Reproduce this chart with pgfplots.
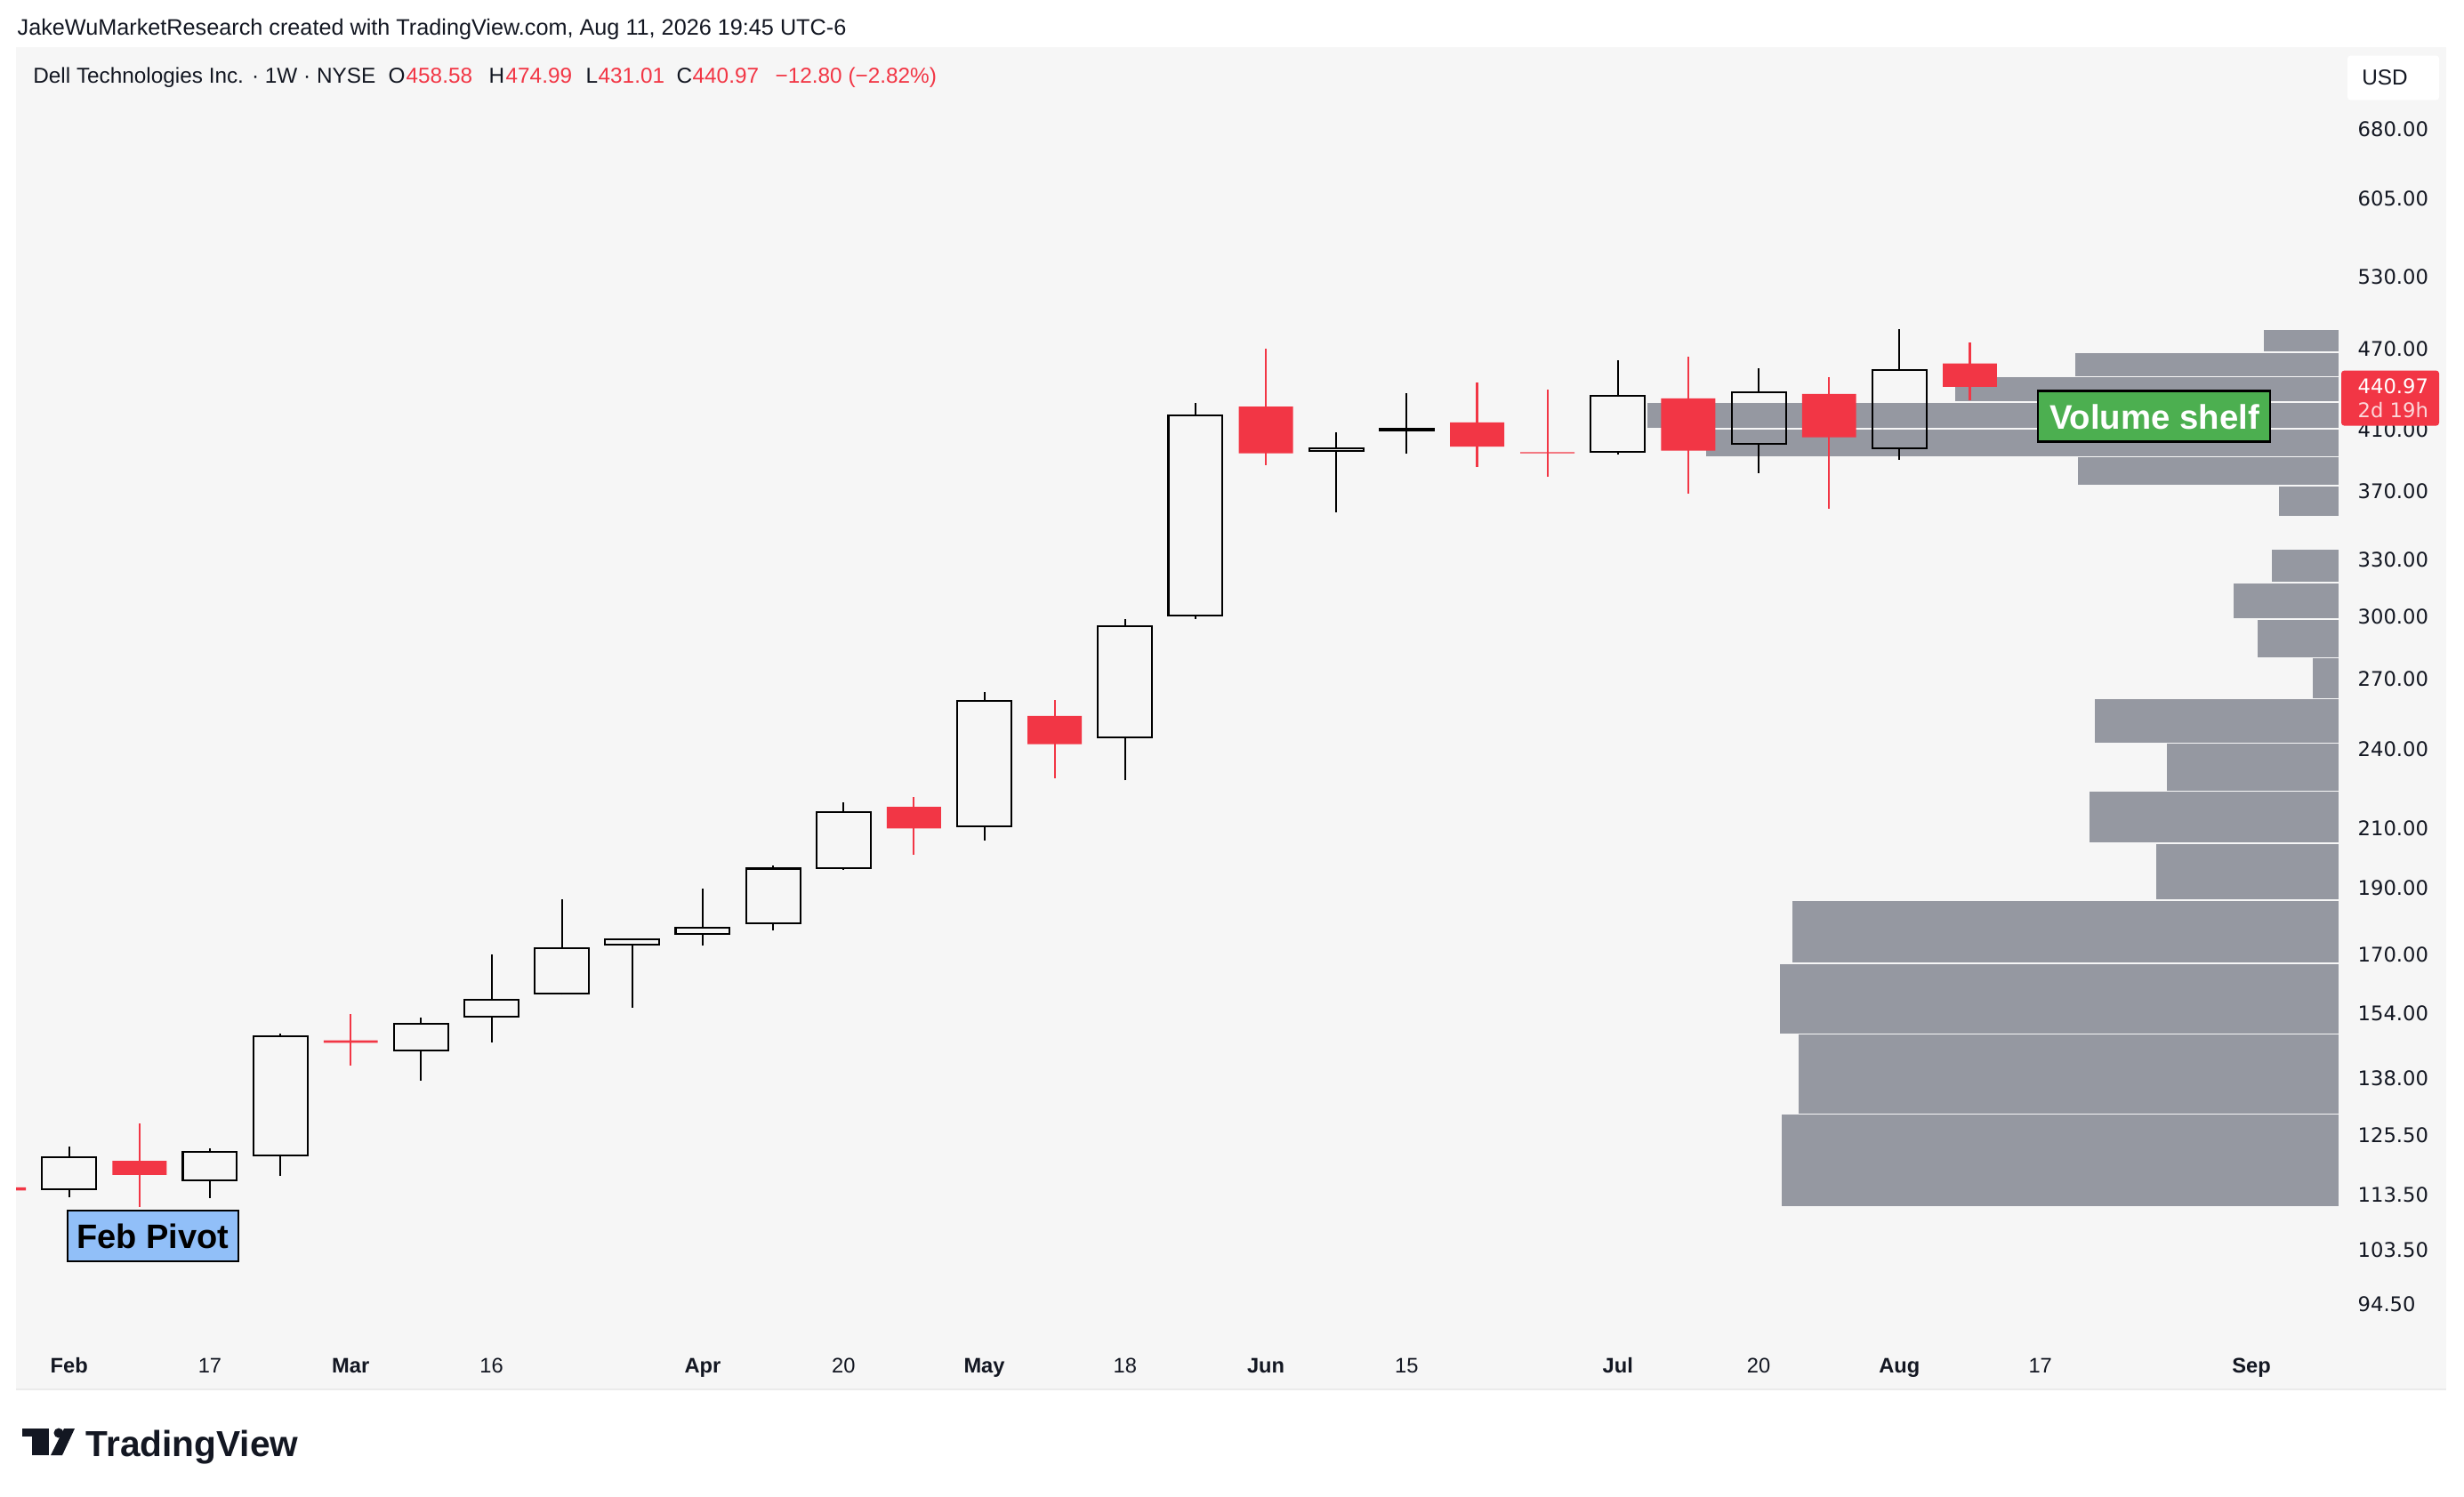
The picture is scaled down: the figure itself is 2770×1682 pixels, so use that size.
\documentclass[border=0pt]{standalone}
\usepackage{fontspec}
\setmainfont{Liberation Sans}
\newfontfamily\dejavu{DejaVu Sans}
\usepackage{pgfplots}
\pgfplotsset{compat=1.18}
\definecolor{panel}{HTML}{F6F6F6}
\definecolor{tvred}{HTML}{F23645}
\definecolor{volgray}{HTML}{9598A1}
\definecolor{tvtext}{HTML}{131722}
\definecolor{pivotblue}{HTML}{91BFF8}
\definecolor{shelfgreen}{HTML}{4CAF50}
\begin{document}
\begin{tikzpicture}[x=0.3pt,y=-0.3pt]
\path[use as bounding box] (0,0) rectangle (2770,1682);
\fill[white] (0,0) rectangle (2770,1682);
\fill[panel] (18,53) rectangle (2750,1562);
\draw[black!8, line width=0.5pt] (18,1562) -- (2750,1562);
% top line
\node[anchor=base west, inner sep=0pt, font=\fontsize{7.57}{9}\selectfont, text=tvtext] at (19,39) {JakeWuMarketResearch created with TradingView.com, Aug 11, 2026 19:45 UTC-6};
% header
\begin{scope}[every node/.style={anchor=base west, inner sep=0pt, font=\fontsize{7.3}{9}\selectfont, text=tvtext}]
\node at (36.7,93) {Dell Technologies Inc. · 1W · NYSE};
\node at (436,93) {O};
\node[text=tvred] at (456,93) {458.58};
\node at (549,93) {H};
\node[text=tvred] at (568,93) {474.99};
\node at (658,93) {L};
\node[text=tvred] at (672,93) {431.01};
\node at (760,93) {C};
\node[text=tvred] at (778,93) {440.97};
\node[text=tvred] at (871,93) {−12.80 (−2.82\%)};
\end{scope}
% USD box
\fill[white, rounded corners=1pt] (2639,62.6) rectangle (2742,112.4);
\node[inner sep=0pt, font=\fontsize{7.3}{9}\selectfont, text=tvtext] at (2681,87) {USD};

\begin{axis}[
  at={(5.4pt,-15.9pt)}, anchor=north west,
  width=783.6pt, height=436.2pt, scale only axis,
  xmin=-0.7544, xmax=32.25,
  ymode=log, ymin=88.93, ymax=780,
  axis line style={draw=none},
  tick style={draw=none},
  major tick length=0pt, minor tick length=0pt,
  ytick={94.5,103.5,113.5,125.5,138,154,170,190,210,240,270,300,330,370,410,470,530,605,680},
  yticklabels={94.50,103.50,113.50,125.50,138.00,154.00,170.00,190.00,210.00,240.00,270.00,300.00,330.00,370.00,410.00,470.00,530.00,605.00,680.00},
  yticklabel pos=right,
  yticklabel style={anchor=west, inner sep=0pt, xshift=6pt, font=\dejavu\fontsize{6.8}{8}\selectfont, text=tvtext},
  xtick={0,2,4,6,9,11,13,15,17,19,22,24,26,28,31},
  xticklabels={\textbf{Feb},17,\textbf{Mar},16,\textbf{Apr},20,\textbf{May},18,\textbf{Jun},15,\textbf{Jul},20,\textbf{Aug},17,\textbf{Sep}},
  xticklabel style={anchor=base, inner sep=0pt, yshift=-11.1pt, font=\fontsize{7.1}{8}\selectfont, text=tvtext},
  unbounded coords=jump,
  vol/.style={fill=volgray, draw=panel, line width=0.45pt, mark=none},
  up/.style={draw=black, line width=0.62pt, fill=none, line join=miter, line cap=rect, mark=none},
  upwick/.style={draw=black, line width=0.62pt, mark=none},
  down/.style={fill=tvred, draw=none, mark=none},
  downwick/.style={draw=tvred, line width=0.62pt, mark=none},
]
% volume profile (bins of 18.73 from 111.30)
\addplot[vol] coordinates {(31.163,467.17) (32.25,467.17) (32.25,485.90) (31.163,485.90)} --cycle;
\addplot[vol] coordinates {(28.485,448.44) (32.25,448.44) (32.25,467.17) (28.485,467.17)} --cycle;
\addplot[vol] coordinates {(26.779,429.71) (32.25,429.71) (32.25,448.44) (26.779,448.44)} --cycle;
\addplot[vol] coordinates {(22.407,410.98) (32.25,410.98) (32.25,429.71) (22.407,429.71)} --cycle;
\addplot[vol] coordinates {(23.241,392.25) (32.25,392.25) (32.25,410.98) (23.241,410.98)} --cycle;
\addplot[vol] coordinates {(28.522,373.52) (32.25,373.52) (32.25,392.25) (28.522,392.25)} --cycle;
\addplot[vol] coordinates {(31.378,354.79) (32.25,354.79) (32.25,373.52) (31.378,373.52)} --cycle;
\addplot[vol] coordinates {(31.277,317.33) (32.25,317.33) (32.25,336.06) (31.277,336.06)} --cycle;
\addplot[vol] coordinates {(30.734,298.60) (32.25,298.60) (32.25,317.33) (30.734,317.33)} --cycle;
\addplot[vol] coordinates {(31.075,279.87) (32.25,279.87) (32.25,298.60) (31.075,298.60)} --cycle;
\addplot[vol] coordinates {(31.858,261.14) (32.25,261.14) (32.25,279.87) (31.858,279.87)} --cycle;
\addplot[vol] coordinates {(28.762,242.41) (32.25,242.41) (32.25,261.14) (28.762,261.14)} --cycle;
\addplot[vol] coordinates {(29.786,223.68) (32.25,223.68) (32.25,242.41) (29.786,242.41)} --cycle;
\addplot[vol] coordinates {(28.687,204.95) (32.25,204.95) (32.25,223.68) (28.687,223.68)} --cycle;
\addplot[vol] coordinates {(29.634,186.22) (32.25,186.22) (32.25,204.95) (29.634,204.95)} --cycle;
\addplot[vol] coordinates {(24.466,167.49) (32.25,167.49) (32.25,186.22) (24.466,186.22)} --cycle;
\addplot[vol] coordinates {(24.289,148.76) (32.25,148.76) (32.25,167.49) (24.289,167.49)} --cycle;
\addplot[vol] coordinates {(24.555,130.03) (32.25,130.03) (32.25,148.76) (24.555,148.76)} --cycle;
\addplot[vol] coordinates {(24.315,111.30) (32.25,111.30) (32.25,130.03) (24.315,130.03)} --cycle;

% red (down) candles: wicks then bodies
\addplot[downwick] coordinates {
(-1,113.5) (-1,116.0) (nan,nan)
(1,111.3) (1,128.0) (nan,nan)
(4,141.1) (4,153.9) (nan,nan)
(12,201.1) (12,221.5) (nan,nan)
(14,228.6) (14,260.6) (nan,nan)
(17,386.8) (17,470.0) (nan,nan)
(20,385.4) (20,444.2) (nan,nan)
(21,379.1) (21,438.8) (nan,nan)
(23,368.7) (23,463.9) (nan,nan)
(25,359.5) (25,448.2) (nan,nan)
(27,431.01) (27,474.99)
};
\addplot[down] coordinates {
(-1.385,115.0) (-0.615,115.0) (-0.615,114.4) (-1.385,114.4) (nan,nan)
(0.615,120.2) (1.385,120.2) (1.385,117.4) (0.615,117.4) (nan,nan)
(3.615,147.2) (4.385,147.2) (4.385,146.6) (3.615,146.6) (nan,nan)
(11.615,217.8) (12.385,217.8) (12.385,210.1) (11.615,210.1) (nan,nan)
(13.615,253.7) (14.385,253.7) (14.385,242.0) (13.615,242.0) (nan,nan)
(16.615,426.5) (17.385,426.5) (17.385,394.4) (16.615,394.4) (nan,nan)
(19.615,415.4) (20.385,415.4) (20.385,398.9) (19.615,398.9) (nan,nan)
(20.615,395.2) (21.385,395.2) (21.385,394.4) (20.615,394.4) (nan,nan)
(22.615,432.4) (23.385,432.4) (23.385,396.2) (22.615,396.2) (nan,nan)
(24.615,435.7) (25.385,435.7) (25.385,405.1) (24.615,405.1) (nan,nan)
(26.615,458.58) (27.385,458.58) (27.385,440.97) (26.615,440.97)
};

% hollow (up) candles: wicks outside the body, then body outlines
\addplot[upwick] coordinates {
(0,121.0) (0,123.1) (nan,nan) (0,113.1) (0,114.6) (nan,nan)
(2,122.1) (2,122.7) (nan,nan) (2,113.0) (2,116.3) (nan,nan)
(3,148.1) (3,148.8) (nan,nan) (3,117.3) (3,121.3) (nan,nan)
(5,151.4) (5,152.9) (nan,nan) (5,137.6) (5,144.7) (nan,nan)
(6,157.6) (6,170.0) (nan,nan) (6,146.7) (6,153.2) (nan,nan)
(7,171.7) (7,186.5) (nan,nan) (7,158.9) (7,159.2) (nan,nan)
(8,155.5) (8,172.9) (nan,nan)
(9,177.8) (9,189.8) (nan,nan) (9,172.5) (9,176.0) (nan,nan)
(10,196.4) (10,197.4) (nan,nan) (10,177.1) (10,179.2) (nan,nan)
(11,216.0) (11,219.4) (nan,nan) (11,196.0) (11,196.5) (nan,nan)
(13,260.4) (13,264.2) (nan,nan) (13,205.9) (13,210.8) (nan,nan)
(15,295.1) (15,298.5) (nan,nan) (15,227.7) (15,244.8) (nan,nan)
(16,420.4) (16,429.2) (nan,nan) (16,298.7) (16,300.4) (nan,nan)
(18,398.0) (18,408.3) (nan,nan) (18,357.4) (18,396.2) (nan,nan)
(19,410.8) (19,436.3) (nan,nan) (19,394.1) (19,409.8) (nan,nan)
(22,434.6) (22,461.1) (nan,nan) (22,393.8) (22,395.4) (nan,nan)
(24,437.2) (24,454.9) (nan,nan) (24,381.6) (24,400.7) (nan,nan)
(26,453.8) (26,485.9) (nan,nan) (26,390.3) (26,397.8)
};
\addplot[up] coordinates {
(-0.385,114.6) (0.385,114.6) (0.385,121.0) (-0.385,121.0) (-0.385,114.6) (nan,nan)
(1.615,116.3) (2.385,116.3) (2.385,122.1) (1.615,122.1) (1.615,116.3) (nan,nan)
(2.615,121.3) (3.385,121.3) (3.385,148.1) (2.615,148.1) (2.615,121.3) (nan,nan)
(4.615,144.7) (5.385,144.7) (5.385,151.4) (4.615,151.4) (4.615,144.7) (nan,nan)
(5.615,153.2) (6.385,153.2) (6.385,157.6) (5.615,157.6) (5.615,153.2) (nan,nan)
(6.615,159.2) (7.385,159.2) (7.385,171.7) (6.615,171.7) (6.615,159.2) (nan,nan)
(7.615,172.9) (8.385,172.9) (8.385,174.3) (7.615,174.3) (7.615,172.9) (nan,nan)
(8.615,176.0) (9.385,176.0) (9.385,177.8) (8.615,177.8) (8.615,176.0) (nan,nan)
(9.615,179.2) (10.385,179.2) (10.385,196.4) (9.615,196.4) (9.615,179.2) (nan,nan)
(10.615,196.5) (11.385,196.5) (11.385,216.0) (10.615,216.0) (10.615,196.5) (nan,nan)
(12.615,210.8) (13.385,210.8) (13.385,260.4) (12.615,260.4) (12.615,210.8) (nan,nan)
(14.615,244.8) (15.385,244.8) (15.385,295.1) (14.615,295.1) (14.615,244.8) (nan,nan)
(15.615,300.4) (16.385,300.4) (16.385,420.4) (15.615,420.4) (15.615,300.4) (nan,nan)
(17.615,396.2) (18.385,396.2) (18.385,398.0) (17.615,398.0) (17.615,396.2) (nan,nan)
(18.615,409.8) (19.385,409.8) (19.385,410.8) (18.615,410.8) (18.615,409.8) (nan,nan)
(21.615,395.4) (22.385,395.4) (22.385,434.6) (21.615,434.6) (21.615,395.4) (nan,nan)
(23.615,400.7) (24.385,400.7) (24.385,437.2) (23.615,437.2) (23.615,400.7) (nan,nan)
(25.615,397.8) (26.385,397.8) (26.385,453.8) (25.615,453.8) (25.615,397.8)
};
\end{axis}

% current price label
\fill[tvred, rounded corners=1pt] (2632,416.6) rectangle (2742,478.6);
\node[anchor=west, inner sep=0pt, font=\dejavu\fontsize{6.8}{8}\selectfont, text=white] at (2650,434) {440.97};
\node[anchor=west, inner sep=0pt, font=\dejavu\fontsize{6.8}{8}\selectfont, text=white!80!tvred] at (2650,461) {2d 19h};

% annotations
\filldraw[fill=pivotblue, draw=black, line width=0.65pt] (75.8,1361) rectangle (267.7,1418.3);
\node[inner sep=0pt, font=\bfseries\fontsize{11.4}{12}\selectfont, text=black] at (171.7,1390) {Feb Pivot};
\filldraw[fill=shelfgreen, draw=black, line width=0.75pt] (2291,439.6) rectangle (2552,496.6);
\node[inner sep=0pt, font=\bfseries\fontsize{11.5}{12}\selectfont, text=white] at (2422,468.5) {Volume shelf};

% TradingView logo
\fill[tvtext] (25,1606) rectangle (55,1615);
\fill[tvtext] (36,1606) rectangle (55,1636);
\fill[tvtext] (66,1611) circle (1.65pt);
\fill[tvtext] (72,1606) -- (84,1606) -- (70,1636) -- (57,1636) -- cycle;
\node[anchor=base west, inner sep=0pt, font=\bfseries\fontsize{12.2}{13}\selectfont, text=tvtext] at (96,1637) {TradingView};
\end{tikzpicture}
\end{document}
